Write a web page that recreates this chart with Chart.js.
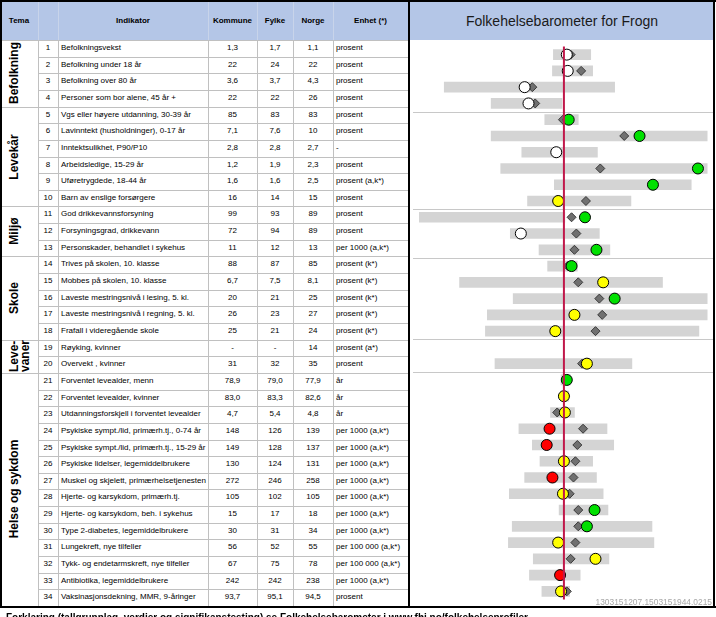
<!DOCTYPE html>
<html>
<head>
<meta charset="UTF-8">
<title>Folkehelsebarometer for Frogn</title>
<script src="https://cdn.jsdelivr.net/npm/chart.js"></script>
<style>
  body { margin: 0; background: #fff; font-family: "Liberation Sans", Arial, sans-serif; }
  #wrap { position: relative; width: 716px; height: 617px; overflow: hidden; }
  .t { position: absolute; font-size: 8px; color: #000; white-space: nowrap; }
  .ln { position: absolute; background: #c0c0c0; }
  .blk { position: absolute; background: #000; }
  .hd { position: absolute; background: #b4c6e7; }
</style>
</head>
<body>
<div id="wrap">
  <canvas id="barometer" width="304" height="566" style="position:absolute;left:410px;top:40px;"></canvas>
</div>

<script>
// tabelldata
const temaNavn = ['Befolkning', 'Levekår', 'Miljø', 'Skole', 'Leve-\nvaner', 'Helse og sykdom'];
const temaAntall = [4, 6, 3, 5, 2, 14];

const indikatorer = [
  'Befolkningsvekst', 'Befolkning under 18 år', 'Befolkning over 80 år', 'Personer som bor alene, 45 år +',
  'Vgs eller høyere utdanning, 30-39 år', 'Lavinntekt (husholdninger), 0-17 år', 'Inntektsulikhet, P90/P10',
  'Arbeidsledige, 15-29 år', 'Uføretrygdede, 18-44 år', 'Barn av enslige forsørgere',
  'God drikkevannsforsyning', 'Forsyningsgrad, drikkevann', 'Personskader, behandlet i sykehus',
  'Trives på skolen, 10. klasse', 'Mobbes på skolen, 10. klasse', 'Laveste mestringsnivå i lesing, 5. kl.',
  'Laveste mestringsnivå i regning, 5. kl.', 'Frafall i videregående skole',
  'Røyking, kvinner', 'Overvekt , kvinner',
  'Forventet levealder, menn', 'Forventet levealder, kvinner', 'Utdanningsforskjell i forventet levealder',
  'Psykiske sympt./lid, primærh.tj., 0-74 år', 'Psykiske sympt./lid, primærh.tj., 15-29 år',
  'Psykiske lidelser, legemiddelbrukere', 'Muskel og skjelett, primærhelsetjenesten',
  'Hjerte- og karsykdom, primærh.tj.', 'Hjerte- og karsykdom, beh. i sykehus',
  'Type 2-diabetes, legemiddelbrukere', 'Lungekreft, nye tilfeller', 'Tykk- og endetarmskreft, nye tilfeller',
  'Antibiotika, legemiddelbrukere', 'Vaksinasjonsdekning, MMR, 9-åringer'
];
const kommune = ['1,3', '22', '3,6', '22', '85', '7,1', '2,8', '1,2', '1,6', '16', '99', '72', '11', '88', '6,7', '20', '26', '25',
  '-', '31', '78,9', '83,0', '4,7', '148', '149', '130', '272', '105', '15', '30', '56', '67', '242', '93,7'];
const fylke = ['1,7', '24', '3,7', '22', '83', '7,6', '2,8', '1,9', '1,6', '14', '93', '94', '12', '87', '7,5', '21', '23', '21',
  '-', '32', '79,0', '83,3', '5,4', '126', '128', '124', '246', '102', '17', '31', '52', '75', '242', '95,1'];
const norge = ['1,1', '22', '4,3', '26', '83', '10', '2,7', '2,3', '2,5', '15', '89', '89', '13', '85', '8,1', '25', '27', '24',
  '14', '35', '77,9', '82,6', '4,8', '139', '137', '131', '258', '105', '18', '34', '55', '78', '238', '94,5'];
const enhet = ['prosent', 'prosent', 'prosent', 'prosent', 'prosent', 'prosent', '-', 'prosent', 'prosent (a,k*)', 'prosent',
  'prosent', 'prosent', 'per 1000 (a,k*)', 'prosent (k*)', 'prosent (k*)', 'prosent (k*)', 'prosent (k*)', 'prosent (k*)',
  'prosent (a*)', 'prosent', 'år', 'år', 'år', 'per 1000 (a,k*)', 'per 1000 (a,k*)', 'per 1000 (a,k*)', 'per 1000 (a,k*)',
  'per 1000 (a,k*)', 'per 1000 (a,k*)', 'per 1000 (a,k*)', 'per 100 000 (a,k*)', 'per 100 000 (a,k*)', 'per 1000 (a,k*)', 'prosent'];

// barometer, standardisert skala der Norge = 0
const norgeRef = 0;
const spennLav = [-11, -12, -125, -76, -20, -76, -44, -66, -10, -38, -151, -56, -26, -17, -109, -53, -80, -82,
  null, -72, -3, -3, -14, -47, -33, -25, -41, -57, -5, -54, -58, -32, -36, -23];
const spennHoy = [28, 30, 53, -2, 15, 160, 35, 160, 133, 70, 1, 37, 48, 14, 103, 160, 160, 141,
  null, 71, 7, 5, 11, 45, 52, 30, 34, 41, 46, 92, 94, 47, 17, 6];
const fylkePos = [7, 18, -33, -30, -1, 63, -8, 38, 93, 23, 8, 13, 11, 4, 15, 37, 40, 33,
  null, 19, 3, 1, -7, 20, 14, 12, 10, 6, 15, 15, 12, 7, -4, 3];
const kommunePos = [3, 4, -41, -37, 5, 79, -8, 140, 93, -6, 22, -45, 34, 8, 41, 53, 11, -9,
  null, 24, 3, 0, 1, -15, -18, 0, -12, -1, 32, 24, -6, 33, -4, -3];
const kommuneStatus = ['ingen', 'ingen', 'ingen', 'ingen', 'bedre', 'bedre', 'ingen', 'bedre', 'bedre', 'usikker',
  'bedre', 'ingen', 'bedre', 'bedre', 'usikker', 'bedre', 'usikker', 'usikker', null, 'usikker',
  'bedre', 'usikker', 'usikker', 'verre', 'verre', 'usikker', 'verre', 'usikker', 'bedre', 'bedre',
  'usikker', 'usikker', 'verre', 'usikker'];
const skilleEtter = [4, 10, 13, 18, 20];

const statusFarge = { bedre: '#00e000', usikker: '#ffff00', verre: '#ff0000', ingen: '#ffffff' };

// ---- tabell ----
const wrap = document.getElementById('wrap');
const TOP = 40, H = 566 / 34, BUNN = 606;
const kol = [0, 38, 58, 208, 257, 293, 333, 408];

function add(cls, css, text) {
  const d = document.createElement('div');
  d.className = cls;
  Object.assign(d.style, css);
  if (text != null) d.textContent = text;
  wrap.appendChild(d);
  return d;
}
function px(v) { return v + 'px'; }

// overskrifter
add('hd', { left: '2px', top: '2px', width: '406px', height: '38px' });
add('hd', { left: '410px', top: '2px', width: '304px', height: '38px' });
const hodeTekst = ['Tema', '', 'Indikator', 'Kommune', 'Fylke', 'Norge', 'Enhet (*)'];
hodeTekst.forEach((s, j) => {
  add('t', { left: px(kol[j]), top: '2px', width: px(kol[j + 1] - kol[j]), height: '38px', lineHeight: '38px',
    textAlign: 'center', fontWeight: 'bold' }, s);
  if (j > 0) add('ln', { left: px(kol[j]), top: '2px', width: '1px', height: '38px', background: '#c8d4ea' });
});
add('t', { left: '410px', top: '2px', width: '304px', height: '38px', lineHeight: '38px', textAlign: 'center',
  fontSize: '14px', color: '#1a1a1a' }, 'Folkehelsebarometer for Frogn');

// rader
for (let i = 0; i < indikatorer.length; i++) {
  const y = TOP + i * H;
  const rad = { top: px(y), height: px(H), lineHeight: px(H) };
  add('t', Object.assign({ left: px(kol[1]), width: px(kol[2] - kol[1]), textAlign: 'center' }, rad), String(i + 1));
  add('t', Object.assign({ left: px(kol[2] + 3) }, rad), indikatorer[i]);
  add('t', Object.assign({ left: px(kol[3]), width: px(kol[4] - kol[3]), textAlign: 'center' }, rad), kommune[i]);
  add('t', Object.assign({ left: px(kol[4]), width: px(kol[5] - kol[4]), textAlign: 'center' }, rad), fylke[i]);
  add('t', Object.assign({ left: px(kol[5]), width: px(kol[6] - kol[5]), textAlign: 'center' }, rad), norge[i]);
  add('t', Object.assign({ left: px(kol[6] + 3) }, rad), enhet[i]);
  if (i > 0) add('ln', { left: px(kol[1]), top: px(Math.round(y)), width: px(kol[7] - kol[1]), height: '1px' });
}
for (let j = 1; j < 7; j++) {
  add('ln', { left: px(kol[j]), top: px(TOP), width: '1px', height: px(BUNN - TOP) });
}
add('ln', { left: '2px', top: px(TOP), width: '406px', height: '1px' });

// tema
let start = 0;
temaNavn.forEach((navn, g) => {
  const n = temaAntall[g];
  const y0 = TOP + start * H, y1 = TOP + (start + n) * H;
  if (g > 0) add('ln', { left: '2px', top: px(Math.round(y0)), width: px(kol[1] - 2), height: '1px' });
  const cx = navn.includes('\n') ? 20 : 14;
  add('t', { left: px(cx), top: px((y0 + y1) / 2), transform: 'translate(-50%,-50%) rotate(-90deg)',
    fontSize: '12px', fontWeight: 'bold', lineHeight: '11px', whiteSpace: 'pre', textAlign: 'left' }, navn);
  start += n;
});

// rammer
add('blk', { left: '0px', top: '0px', width: '716px', height: '2px' });
add('blk', { left: '0px', top: '0px', width: '2px', height: px(BUNN + 2) });
add('blk', { left: '0px', top: px(BUNN), width: '716px', height: '2px' });
add('blk', { left: '713px', top: '0px', width: '2px', height: px(BUNN + 2) });
add('blk', { left: '408px', top: '0px', width: '2px', height: px(BUNN + 2) });

add('t', { left: '560px', top: '597px', width: '152px', textAlign: 'right', fontSize: '8.4px', color: '#a8a8a8' },
  '1303151207.1503151944.0215');
add('t', { left: '6px', top: '612px', fontSize: '10px', fontWeight: 'bold' },
  'Forklaring (tallgrunnlag, verdier og signifikanstesting) se Folkehelsebarometer i www.fhi.no/folkehelseprofiler');

// ---- barometer ----
const labels = indikatorer.map((_, i) => String(i + 1));

const skillelinjer = {
  id: 'skillelinjer',
  beforeDatasetsDraw(chart) {
    const { ctx, scales: { y }, width } = chart;
    ctx.save();
    ctx.strokeStyle = '#c8c8c8';
    ctx.lineWidth = 1;
    skilleEtter.forEach(k => {
      const py = Math.round((y.getPixelForValue(k - 1) + y.getPixelForValue(k)) / 2) + 0.5;
      ctx.beginPath();
      ctx.moveTo(3, py);
      ctx.lineTo(width, py);
      ctx.stroke();
    });
    ctx.restore();
  }
};
const norgeLinje = {
  id: 'norgeLinje',
  afterDatasetsDraw(chart) {
    const { ctx, chartArea, scales: { x } } = chart;
    const px0 = x.getPixelForValue(norgeRef);
    ctx.save();
    ctx.strokeStyle = '#c0184a';
    ctx.lineWidth = 2;
    ctx.beginPath();
    ctx.moveTo(px0, chartArea.top);
    ctx.lineTo(px0, chartArea.bottom);
    ctx.stroke();
    ctx.restore();
  }
};

const fylkePunkter = [], kommunePunkter = [], kommuneFarger = [];
labels.forEach((l, i) => {
  if (fylkePos[i] != null) fylkePunkter.push({ x: fylkePos[i], y: l });
  if (kommunePos[i] != null) {
    kommunePunkter.push({ x: kommunePos[i], y: l });
    kommuneFarger.push(statusFarge[kommuneStatus[i]]);
  }
});

new Chart(document.getElementById('barometer'), {
  type: 'bar',
  data: {
    labels: labels,
    datasets: [
      {
        label: 'Spredning',
        data: spennLav.map((v, i) => v == null ? null : [v, spennHoy[i]]),
        backgroundColor: '#d4d4d4',
        borderWidth: 0,
        barThickness: 10,
        indexAxis: 'y',
        order: 3
      },
      {
        type: 'line',
        label: 'Fylke',
        data: fylkePunkter,
        showLine: false,
        indexAxis: 'y',
        pointStyle: 'rectRot',
        pointRadius: 4.5,
        pointBackgroundColor: '#707070',
        pointBorderColor: '#3a3a3a',
        pointBorderWidth: 1,
        order: 2
      },
      {
        type: 'line',
        label: 'Kommune',
        data: kommunePunkter,
        showLine: false,
        indexAxis: 'y',
        pointStyle: 'circle',
        pointRadius: 5.5,
        pointBackgroundColor: kommuneFarger,
        pointBorderColor: '#000',
        pointBorderWidth: 1,
        order: 1
      }
    ]
  },
  options: {
    indexAxis: 'y',
    responsive: false,
    animation: false,
    devicePixelRatio: 1,
    layout: { padding: 0 },
    plugins: { legend: { display: false }, tooltip: { enabled: false } },
    scales: {
      x: { type: 'linear', min: -154, max: 150, display: false },
      y: { type: 'category', offset: true, display: false }
    }
  },
  plugins: [skillelinjer, norgeLinje]
});
</script>
</body>
</html>
